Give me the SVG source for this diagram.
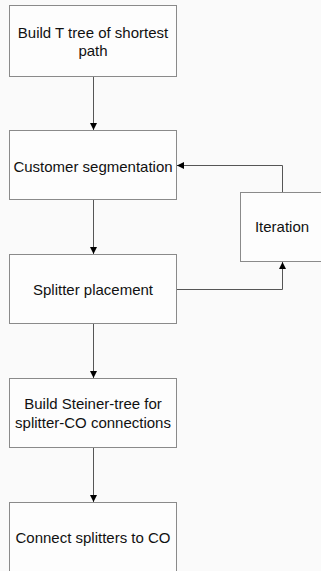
<svg xmlns="http://www.w3.org/2000/svg" width="321" height="571" viewBox="0 0 321 571">
<style>
.box{fill:#fdfdfd;stroke:#8a8a8a;stroke-width:1}
.lbl{font-family:"Liberation Sans",Arial,sans-serif;font-size:15px;fill:#111;text-anchor:middle;dominant-baseline:central}
.con{fill:none;stroke:#555;stroke-width:1}
</style>
<defs>
<marker id="ah" viewBox="0 0 8 8" refX="8" refY="4" markerWidth="7" markerHeight="7" markerUnits="userSpaceOnUse" orient="auto">
<path d="M0,0 L8,4 L0,8 Z" fill="#000"/>
</marker>
</defs>
<rect width="321" height="571" fill="#fafafa"/>
<g id="n1"><rect class="box" x="9.5" y="5.5" width="167" height="71"/><text class="lbl" x="93" y="32">Build T tree of shortest</text><text class="lbl" x="93" y="50">path</text></g>
<g id="n2"><rect class="box" x="9.5" y="130.5" width="167" height="69"/><text class="lbl" x="93" y="166">Customer segmentation</text></g>
<g id="n3"><rect class="box" x="240.5" y="192.5" width="90" height="69"/><text class="lbl" x="282" y="226">Iteration</text></g>
<g id="n4"><rect class="box" x="9.5" y="254.5" width="167" height="69"/><text class="lbl" x="93" y="289">Splitter placement</text></g>
<g id="n5"><rect class="box" x="9.5" y="378.5" width="167" height="69"/><text class="lbl" x="93" y="403">Build Steiner-tree for</text><text class="lbl" x="93" y="422">splitter-CO connections</text></g>
<g id="n6"><rect class="box" x="9.5" y="502.5" width="167" height="80"/><text class="lbl" x="93" y="537">Connect splitters to CO</text></g>
<g id="connectors">
<path class="con" d="M93.5,77 V130" marker-end="url(#ah)"/>
<path class="con" d="M93.5,200 V254" marker-end="url(#ah)"/>
<path class="con" d="M93.5,324 V378" marker-end="url(#ah)"/>
<path class="con" d="M93.5,448 V502" marker-end="url(#ah)"/>
<path class="con" d="M177,289.5 H282.5 V262" marker-end="url(#ah)"/>
<path class="con" d="M282.5,192 V165.5 H177" marker-end="url(#ah)"/>
</g>
</svg>
